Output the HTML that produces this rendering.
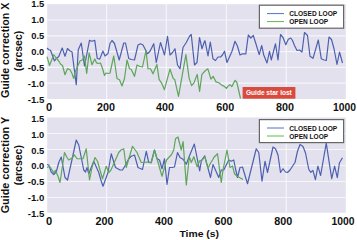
<!DOCTYPE html>
<html><head><meta charset="utf-8"><style>
html,body{margin:0;padding:0;background:#fff;width:357px;height:240px;overflow:hidden}
svg{display:block}
text{font-family:"Liberation Sans",sans-serif;font-weight:bold;fill:#111}
</style></head><body>
<svg width="357" height="240" viewBox="0 0 357 240">
<rect width="357" height="240" fill="#fff"/>
<g>
<rect width="357" height="240" fill="#fff"/>
<rect x="47.2" y="4.2" width="298.6" height="94.8" fill="#E2E1ED"/>
<line x1="47.2" x2="345.8" y1="20.00" y2="20.00" stroke="#F6F6FA" stroke-width="1.2"/>
<line x1="47.2" x2="345.8" y1="35.80" y2="35.80" stroke="#F6F6FA" stroke-width="1.2"/>
<line x1="47.2" x2="345.8" y1="51.60" y2="51.60" stroke="#F6F6FA" stroke-width="1.2"/>
<line x1="47.2" x2="345.8" y1="67.40" y2="67.40" stroke="#F6F6FA" stroke-width="1.2"/>
<line x1="47.2" x2="345.8" y1="83.20" y2="83.20" stroke="#F6F6FA" stroke-width="1.2"/>
<line x1="106.6" x2="106.6" y1="4.2" y2="99.0" stroke="#F6F6FA" stroke-width="1.2"/>
<line x1="166.3" x2="166.3" y1="4.2" y2="99.0" stroke="#F6F6FA" stroke-width="1.2"/>
<line x1="226.4" x2="226.4" y1="4.2" y2="99.0" stroke="#F6F6FA" stroke-width="1.2"/>
<line x1="286.2" x2="286.2" y1="4.2" y2="99.0" stroke="#F6F6FA" stroke-width="1.2"/>
<polyline points="47,48 48.75,49.75 50.5,50.25 54.5,61 56.25,58.5 58.75,56.5 62.2,48 65,56.2 67.5,48.5 70,51 72,51.75 76.25,84.75 78.25,49.75 81.25,43 84.5,66 89.5,40.4 91.6,41.25 94.75,40.4 97.25,58.5 99.75,59.1 102.9,51 105,56 108,53.5 110,43.5 112,40.5 114.5,43.5 119.2,60 123.75,43 125.5,43 128.75,58.5 131.25,59.5 134.5,60 138,45 140.5,43.75 143,45 147.5,53.75 150,51.25 153.75,43.75 156.25,62.5 160.5,42.5 164.5,55 167.5,36.25 170,55 172.5,52.5 175,48.75 177.5,65 180,68.75 183,47.5 186.25,42.5 189.5,36.25 191.25,34.5 194.5,65 197,62.5 199.5,37.5 202,48.75 204.5,41.25 205,40.8 208,55.8 210.3,42 213,58.75 215.5,60.5 218,57 220.5,57 222.5,55 224.5,51.25 227,62.5 232,51.25 235,41.25 237.5,46.25 240,55 242.5,53.75 245.8,53.8 248.3,35 250.8,38 253.3,35.5 256,44 259.2,54.7 261.7,45.5 263.75,55 267,63 269.5,51.25 271.25,60 275.5,43.75 278,60 280.5,34.5 283,37.5 285.8,44.7 288.3,39.3 290.8,38 292.5,40.5 294.5,45.5 297,50.5 299.5,50 302,52 304.5,32.5 307.5,35.5 310,56.25 313,58.3 318.3,40 321.3,58.8 324.2,60 326.3,60.5 329,37 331.5,39.5 334,48.75 337,64.5 339.5,52 342.5,63" fill="none" stroke="#4D60B0" stroke-width="1.2" stroke-linejoin="round"/>
<polyline points="47,56.7 49.5,65.5 53.75,54.75 56.25,58 58.75,61 60.5,64 62.5,65.5 65,74.75 67.5,68.5 70,69.75 72,73.5 73.75,78.5 75.5,71 80,61 82.5,59.75 84.5,56 86.7,73.5 89.1,52.9 92,64.75 94.75,59.1 96.6,62.9 98.75,63.5 100.5,63 102.5,68.5 104.5,75.5 106,73 108,73.5 110,73 113.75,56 117,78.5 119.5,79.75 122,86 124.5,78.5 127,60 129.5,68.75 131.25,69.5 134.5,76.25 137,65 139.5,66.25 142.5,67 146,50.5 148,68.75 150.5,68.75 153,73.75 156.9,64.4 159.1,79.4 161.6,83.1 164.4,89.7 170,69.1 173.2,78.5 174.7,79.4 178.5,96.3 185.9,54.7 189.1,78.1 191.6,85.6 194,82.8 197.2,74.4 199.6,91.3 201.9,74.4 205,71 207.9,68.8 210.9,79.1 213.1,76.3 216,81.9 218.8,82.8 222,85.4 224,86.1 226.4,88.3 228.1,86.1 229.9,84.7 231.8,86.6 235.1,80.3 236.9,82.5 240.5,98.5" fill="none" stroke="#5DA65A" stroke-width="1.2" stroke-linejoin="round"/>
<rect x="242.6" y="87" width="52.8" height="11.7" fill="#D94B3C"/>
<text x="246" y="94.8" font-size="7" style="fill:#fff" textLength="45.8" lengthAdjust="spacingAndGlyphs">Guide star lost</text>
<rect x="259.4" y="5.2" width="84.2" height="23" fill="#fff" stroke="#666" stroke-width="1.2"/>
<line x1="267" x2="284" y1="13.600000000000001" y2="13.600000000000001" stroke="#4A74C8" stroke-width="1"/>
<line x1="267" x2="284" y1="21.599999999999998" y2="21.599999999999998" stroke="#5DBA4A" stroke-width="1"/>
<text x="289.2" y="16.2" font-size="7" textLength="48" lengthAdjust="spacingAndGlyphs">CLOSED LOOP</text>
<text x="289.2" y="24.3" font-size="7" textLength="39" lengthAdjust="spacingAndGlyphs">OPEN LOOP</text>
<rect x="47.2" y="117.5" width="298.6" height="95.2" fill="#E2E1ED"/>
<line x1="47.2" x2="345.8" y1="133.50" y2="133.50" stroke="#F6F6FA" stroke-width="1.2"/>
<line x1="47.2" x2="345.8" y1="149.50" y2="149.50" stroke="#F6F6FA" stroke-width="1.2"/>
<line x1="47.2" x2="345.8" y1="165.50" y2="165.50" stroke="#F6F6FA" stroke-width="1.2"/>
<line x1="47.2" x2="345.8" y1="181.50" y2="181.50" stroke="#F6F6FA" stroke-width="1.2"/>
<line x1="47.2" x2="345.8" y1="197.50" y2="197.50" stroke="#F6F6FA" stroke-width="1.2"/>
<line x1="106.6" x2="106.6" y1="117.5" y2="212.7" stroke="#F6F6FA" stroke-width="1.2"/>
<line x1="166.3" x2="166.3" y1="117.5" y2="212.7" stroke="#F6F6FA" stroke-width="1.2"/>
<line x1="226.4" x2="226.4" y1="117.5" y2="212.7" stroke="#F6F6FA" stroke-width="1.2"/>
<line x1="286.2" x2="286.2" y1="117.5" y2="212.7" stroke="#F6F6FA" stroke-width="1.2"/>
<polyline points="47,164.5 48.75,165 51.25,172 53.75,174.5 56.25,172 58.75,162.5 61.25,157 65,177.5 67.5,180 73,155 76.25,140 78.75,145 83.75,170 85.5,172 87,167.5 88.75,173.75 93.75,161.25 98.75,172.5 101.25,181.25 103,186.25 108,172.5 111.25,153.75 115.5,167.5 120,170 122.5,170 125.5,165 128.75,158.75 131.25,156.25 134.5,155 138,167.5 142.5,169.5 146.25,151.25 148.75,162.5 151.25,162 154.5,150 157,158.75 159.5,160 162,168.75 164.5,158.75 167,184.5 169.5,167.5 172,167.5 174.5,167 177.5,152.5 180,157.5 183,159.2 186.3,164.2 188.8,157.5 194.3,144 199.7,170.8 201.3,160.8 204.7,155.8 210.5,177.5 213,164.5 218.75,177.5 221.25,170 223.75,170 228.75,160 231.25,161.25 233.75,160 235.5,168.75 237.5,177.5 240,167.5 242.5,167 247.5,183.75 256.25,148.75 258.75,152.5 262,181.25 265,161.25 267.5,172.5 273,147 275.5,148.75 278,155 280.5,172.5 283,168.75 285.5,172 287.5,172.5 290,170 295,162.5 297.5,151.25 300,144.5 303,146.5 305.5,153 308.75,169.25 310.8,172.4 312.9,170.3 315.4,179.7 317.9,166.1 320.6,175.5 326.25,143.2 331.7,178.6 334.6,166.1 337.3,177.6 339.4,163 342.5,157.8" fill="none" stroke="#4D60B0" stroke-width="1.2" stroke-linejoin="round"/>
<polyline points="47,167.5 49.5,166.25 53.75,172.5 55.5,170.5 58,176.25 60,182.5 64.5,152.5 67,157.5 68.75,160 72,158 74.5,155 77,158.75 83,158.75 86.25,148.75 89.5,180 92,167.5 95,157.5 97.5,161.25 100,170 102.5,178.75 106.25,166.25 108.75,172.5 108.75,172.5 111,170 113.75,163.75 118.75,152.5 121,150 123.75,148.75 126.25,167.5 132.5,146.25 137,152.5 141.25,162.5 143.75,162.5 146.25,162 148.75,162.5 151.25,163 154.5,150 159.5,167.5 162,176.25 166.5,160 168.75,157.5 171.25,155 173.75,150 175.5,138.75 178,137 181.25,150 183.1,141.6 186.3,185 189.3,156.7 191.3,162.5 193.8,156.7 197.2,166.7 199.7,160.8 202.2,160 204.7,156.7 208,168.3 210.5,163.3 213,159.2 213.75,157.5 217.5,153.75 221.25,182.5 223,170 227,150 230,167.5 232.5,166 234.5,173.75 237,176.25 239.5,177.5 243,179.5" fill="none" stroke="#5DA65A" stroke-width="1.2" stroke-linejoin="round"/>

<rect x="259.4" y="119.6" width="84.2" height="23" fill="#fff" stroke="#666" stroke-width="1.2"/>
<line x1="267" x2="284" y1="128.0" y2="128.0" stroke="#4A74C8" stroke-width="1"/>
<line x1="267" x2="284" y1="136.0" y2="136.0" stroke="#5DBA4A" stroke-width="1"/>
<text x="289.2" y="130.6" font-size="7" textLength="48" lengthAdjust="spacingAndGlyphs">CLOSED LOOP</text>
<text x="289.2" y="138.7" font-size="7" textLength="39" lengthAdjust="spacingAndGlyphs">OPEN LOOP</text>
<text x="44.3" y="7.40" font-size="9.2" text-anchor="end" textLength="13.0" lengthAdjust="spacingAndGlyphs">1.5</text>
<text x="44.3" y="23.25" font-size="9.2" text-anchor="end" textLength="13.0" lengthAdjust="spacingAndGlyphs">1.0</text>
<text x="44.3" y="39.10" font-size="9.2" text-anchor="end" textLength="13.0" lengthAdjust="spacingAndGlyphs">0.5</text>
<text x="44.3" y="54.95" font-size="9.2" text-anchor="end" textLength="13.0" lengthAdjust="spacingAndGlyphs">0.0</text>
<text x="44.3" y="70.80" font-size="9.2" text-anchor="end" textLength="16.6" lengthAdjust="spacingAndGlyphs">-0.5</text>
<text x="44.3" y="86.65" font-size="9.2" text-anchor="end" textLength="16.6" lengthAdjust="spacingAndGlyphs">-1.0</text>
<text x="44.3" y="102.50" font-size="9.2" text-anchor="end" textLength="16.6" lengthAdjust="spacingAndGlyphs">-1.5</text>
<text x="44.3" y="122.20" font-size="9.2" text-anchor="end" textLength="13.0" lengthAdjust="spacingAndGlyphs">1.5</text>
<text x="44.3" y="137.94" font-size="9.2" text-anchor="end" textLength="13.0" lengthAdjust="spacingAndGlyphs">1.0</text>
<text x="44.3" y="153.68" font-size="9.2" text-anchor="end" textLength="13.0" lengthAdjust="spacingAndGlyphs">0.5</text>
<text x="44.3" y="169.43" font-size="9.2" text-anchor="end" textLength="13.0" lengthAdjust="spacingAndGlyphs">0.0</text>
<text x="44.3" y="185.17" font-size="9.2" text-anchor="end" textLength="16.6" lengthAdjust="spacingAndGlyphs">-0.5</text>
<text x="44.3" y="200.91" font-size="9.2" text-anchor="end" textLength="16.6" lengthAdjust="spacingAndGlyphs">-1.0</text>
<text x="44.3" y="216.65" font-size="9.2" text-anchor="end" textLength="16.6" lengthAdjust="spacingAndGlyphs">-1.5</text>
<text x="49.1" y="111.3" font-size="10.3" text-anchor="middle" textLength="6.2" lengthAdjust="spacingAndGlyphs">0</text>
<text x="106" y="111.3" font-size="10.3" text-anchor="middle" textLength="18.0" lengthAdjust="spacingAndGlyphs">200</text>
<text x="165" y="111.3" font-size="10.3" text-anchor="middle" textLength="18.0" lengthAdjust="spacingAndGlyphs">400</text>
<text x="225.2" y="111.3" font-size="10.3" text-anchor="middle" textLength="18.0" lengthAdjust="spacingAndGlyphs">600</text>
<text x="285" y="111.3" font-size="10.3" text-anchor="middle" textLength="18.0" lengthAdjust="spacingAndGlyphs">800</text>
<text x="344.4" y="111.3" font-size="10.3" text-anchor="middle" textLength="23.0" lengthAdjust="spacingAndGlyphs">1000</text>
<text x="49" y="224.8" font-size="10.3" text-anchor="middle" textLength="6.2" lengthAdjust="spacingAndGlyphs">0</text>
<text x="104.6" y="224.8" font-size="10.3" text-anchor="middle" textLength="18.0" lengthAdjust="spacingAndGlyphs">200</text>
<text x="164" y="224.8" font-size="10.3" text-anchor="middle" textLength="18.0" lengthAdjust="spacingAndGlyphs">400</text>
<text x="223.6" y="224.8" font-size="10.3" text-anchor="middle" textLength="18.0" lengthAdjust="spacingAndGlyphs">600</text>
<text x="283.2" y="224.8" font-size="10.3" text-anchor="middle" textLength="18.0" lengthAdjust="spacingAndGlyphs">800</text>
<text x="343" y="224.8" font-size="10.3" text-anchor="middle" textLength="23.0" lengthAdjust="spacingAndGlyphs">1000</text>
<text transform="translate(9,98.1) rotate(-90)" font-size="10.6" textLength="95.5" lengthAdjust="spacingAndGlyphs">Guide correction X</text>
<text transform="translate(22.3,71.0) rotate(-90)" font-size="10.9" textLength="40.2" lengthAdjust="spacingAndGlyphs">(arcsec)</text>
<text transform="translate(9,213.3) rotate(-90)" font-size="10.6" textLength="96.5" lengthAdjust="spacingAndGlyphs">Guide correction Y</text>
<text transform="translate(22.3,185.3) rotate(-90)" font-size="10.9" textLength="40.2" lengthAdjust="spacingAndGlyphs">(arcsec)</text>
<text x="179.4" y="236.9" font-size="9.6" textLength="39.6" lengthAdjust="spacingAndGlyphs">Time (s)</text>
</g>
</svg>
</body></html>
